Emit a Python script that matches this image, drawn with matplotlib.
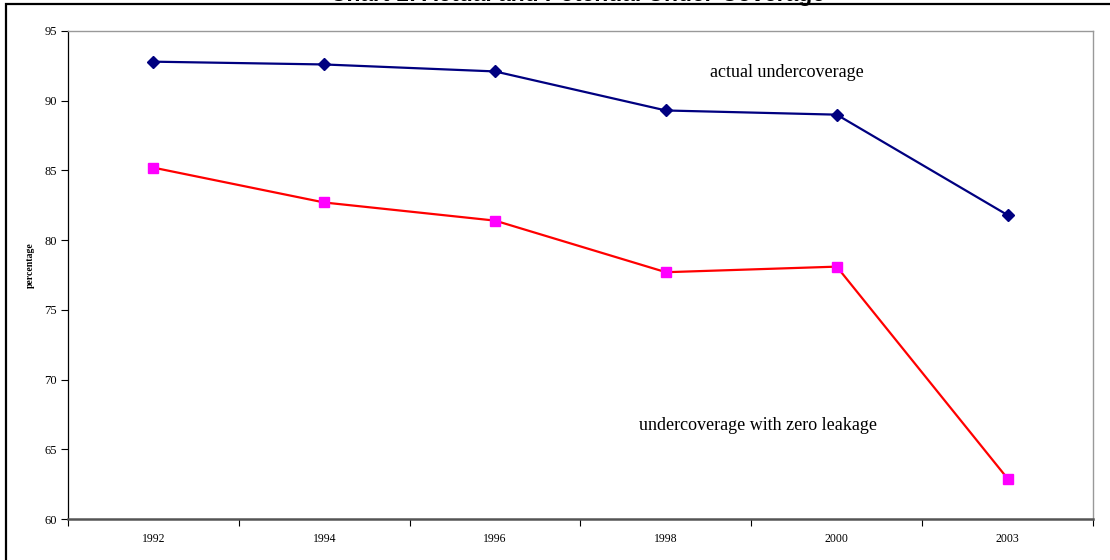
import matplotlib.pyplot as plt
from matplotlib.patches import Rectangle
from matplotlib.ticker import FixedLocator, NullFormatter

years = ['1992', '1994', '1996', '1998', '2000', '2003']
actual = [92.8, 92.6, 92.1, 89.3, 89.0, 81.8]
zero_leakage = [85.2, 82.7, 81.4, 77.7, 78.1, 62.9]

plt.rcParams['font.family'] = ['Liberation Serif', 'DejaVu Serif']

W, H = 1110, 560
fig = plt.figure(figsize=(W / 100, H / 100), dpi=100)
ax = fig.add_axes([68 / W, 1 - 519 / H, (1093 - 68) / W, (519 - 31) / H])

x = list(range(len(years)))
ax.plot(x, actual, color='#000080', lw=1.6, marker='D', ms=6,
        mfc='#000080', mec='#000080', zorder=3)
ax.plot(x, zero_leakage, color='#FF0000', lw=1.6, marker='s', ms=7,
        mfc='#FF00FF', mec='#FF00FF', zorder=3)

ax.set_xlim(-0.5, len(years) - 0.5)
ax.set_ylim(60, 95)
ax.set_yticks(range(60, 96, 5))
ax.tick_params(axis='y', labelsize=9, length=5, width=0.8, pad=3)

# category labels sit between the tick marks
ax.set_xticks(x)
ax.set_xticklabels(years)
ax.tick_params(axis='x', which='major', length=0, labelsize=8.5, pad=10)
ax.xaxis.set_minor_locator(FixedLocator([i - 0.5 for i in range(len(years) + 1)]))
ax.xaxis.set_minor_formatter(NullFormatter())
ax.tick_params(axis='x', which='minor', length=5, width=0.8, color='black')

ax.spines['left'].set_color('black')
ax.spines['left'].set_linewidth(0.9)
ax.spines['bottom'].set_color('#555555')
ax.spines['bottom'].set_linewidth(1.8)
for s in ('top', 'right'):
    ax.spines[s].set_color('#999999')
    ax.spines[s].set_linewidth(1.0)

ax.set_ylabel('percentage', fontsize=7, fontweight='bold')
ax.yaxis.set_label_coords(-0.032, 0.52)

ax.text(3.71, 92.0, 'actual undercoverage', fontsize=13, ha='center', va='center')
ax.text(3.54, 66.7, 'undercoverage with zero leakage', fontsize=13, ha='center', va='center')

# title sits at the very top edge of the chart frame
fig.text(0.52, 1 - 1 / H, 'Chart 1: Actual and Potential Under-Coverage',
         family='Liberation Sans', fontsize=16.5, fontweight='bold',
         ha='center', va='baseline')

# outer chart border
fig.patches.append(Rectangle((6 / W, -0.05), 1.1, 1 - 4 / H + 0.05,
                             transform=fig.transFigure, fill=False,
                             edgecolor='black', lw=1.6))

fig.savefig('out.png', dpi=100)
